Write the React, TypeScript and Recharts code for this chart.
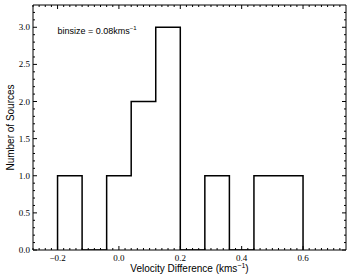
import React from 'react';
import { ComposedChart, Line, XAxis, YAxis, ReferenceDot, Label } from 'recharts';

// histogram, binsize 0.08
const binEdges = [-0.2, -0.12, -0.04, 0.04, 0.12, 0.2, 0.28, 0.36, 0.44, 0.52, 0.6];
const counts = [1, 0, 1, 2, 3, 0, 1, 0, 1, 1];

const xTicks = [-0.2, 0, 0.2, 0.4, 0.6];
const yTicks = [0, 0.5, 1, 1.5, 2, 2.5, 3];
const xMinor = Array.from({ length: 51 }, (_, i) => Math.round((-0.28 + i * 0.02) * 100) / 100);
const yMinor = Array.from({ length: 33 }, (_, i) => i / 10);

const X_DOMAIN = [-0.28, 0.74];
const Y_DOMAIN = [0, 3.3];

const last = counts.length - 1;
const outline = [
  { v: binEdges[0], n: 0 },
  ...counts.map((c, i) => ({ v: binEdges[i], n: c })),
  { v: binEdges[last + 1], n: counts[last] },
  { v: binEdges[last + 1], n: 0 },
];

const SERIF = 'Liberation Serif, serif';
const SANS = 'Liberation Sans, Arial, sans-serif';

const isMajor = (v: number, majors: number[]) => majors.some((m) => Math.abs(m - v) < 1e-6);
const fmtX = (v: number) => (v < 0 ? '\u2212' + Math.abs(v).toFixed(1) : v.toFixed(1));

// tick marks point into the plot; labels only on bottom / left
const makeTick = (side: 'bottom' | 'top' | 'left' | 'right', majors: number[]) => (props: any) => {
  const { x, y, payload } = props;
  const major = isMajor(payload.value, majors);
  const len = major ? 4 : 2;
  let line;
  if (side === 'bottom') line = <line x1={x} y1={y} x2={x} y2={y - len} stroke="#000" />;
  else if (side === 'top') line = <line x1={x} y1={y} x2={x} y2={y + len} stroke="#000" />;
  else if (side === 'left') line = <line x1={x} y1={y} x2={x + len} y2={y} stroke="#000" />;
  else line = <line x1={x} y1={y} x2={x - len} y2={y} stroke="#000" />;
  let text = null;
  if (major && side === 'bottom') {
    text = (
      <text x={x} y={y + 11} textAnchor="middle" fontFamily={SERIF} fontSize={9} fill="#000">
        {fmtX(payload.value)}
      </text>
    );
  } else if (major && side === 'left') {
    text = (
      <text x={x - 3} y={y} textAnchor="end" dominantBaseline="central" fontFamily={SERIF} fontSize={9} fill="#000">
        {payload.value.toFixed(1)}
      </text>
    );
  }
  return (
    <g>
      {line}
      {text}
    </g>
  );
};

const App: React.FC = () => {
  return (
    <div style={{ position: 'absolute', left: 0, top: 0, background: '#fff' }}>
      <ComposedChart width={356} height={276} data={outline} margin={{ top: 4, right: 9, left: 0, bottom: 0 }}>
        <XAxis
          xAxisId="main"
          dataKey="v"
          type="number"
          domain={X_DOMAIN}
          allowDataOverflow
          ticks={xMinor}
          interval={0}
          tickSize={0}
          tickMargin={0}
          tickLine={false}
          axisLine={{ stroke: '#000', strokeWidth: 1 }}
          tick={makeTick('bottom', xTicks)}
          height={26}
        >
          <Label
            content={({ viewBox }: any) => (
              <text
                x={viewBox.x + viewBox.width / 2}
                y={viewBox.y + 22}
                textAnchor="middle"
                fontFamily={SANS}
                fontSize={10}
                fill="#000"
              >
                Velocity Difference (kms
                <tspan fontSize={7} dy={-4}>{'\u2212'}1</tspan>
                <tspan dy={4}>)</tspan>
              </text>
            )}
          />
        </XAxis>
        <XAxis
          xAxisId="top"
          orientation="top"
          dataKey="v"
          type="number"
          domain={X_DOMAIN}
          allowDataOverflow
          ticks={xMinor}
          interval={0}
          tickSize={0}
          tickMargin={0}
          tickLine={false}
          axisLine={{ stroke: '#000', strokeWidth: 1 }}
          tick={makeTick('top', xTicks)}
          height={1}
        />
        <YAxis
          yAxisId="main"
          type="number"
          domain={Y_DOMAIN}
          allowDataOverflow
          ticks={yMinor}
          interval={0}
          tickSize={0}
          tickMargin={0}
          tickLine={false}
          axisLine={{ stroke: '#000', strokeWidth: 1 }}
          tick={makeTick('left', yTicks)}
          width={33}
        >
          <Label
            content={({ viewBox }: any) => (
              <text
                x={10}
                y={viewBox.y + viewBox.height / 2}
                transform={`rotate(-90, 10, ${viewBox.y + viewBox.height / 2})`}
                textAnchor="middle"
                dominantBaseline="central"
                fontFamily={SANS}
                fontSize={10}
                fill="#000"
              >
                Number of Sources
              </text>
            )}
          />
        </YAxis>
        <YAxis
          yAxisId="right"
          orientation="right"
          type="number"
          domain={Y_DOMAIN}
          allowDataOverflow
          ticks={yMinor}
          interval={0}
          tickSize={0}
          tickMargin={0}
          tickLine={false}
          axisLine={{ stroke: '#000', strokeWidth: 1 }}
          tick={makeTick('right', yTicks)}
          width={1}
        />
        <Line
          xAxisId="main"
          yAxisId="main"
          type="stepAfter"
          dataKey="n"
          stroke="#000"
          strokeWidth={1.5}
          dot={false}
          isAnimationActive={false}
        />
        <ReferenceDot
          xAxisId="main"
          yAxisId="main"
          x={-0.2}
          y={2.95}
          r={0}
          fill="none"
          stroke="none"
          label={({ viewBox }: any) => (
            <text x={viewBox.x} y={viewBox.y} dominantBaseline="central" fontFamily={SANS} fontSize={9} fill="#000">
              binsize = 0.08kms
              <tspan fontSize={6} dy={-3}>{'\u2212'}1</tspan>
            </text>
          )}
        />
      </ComposedChart>
    </div>
  );
};

export default App;
